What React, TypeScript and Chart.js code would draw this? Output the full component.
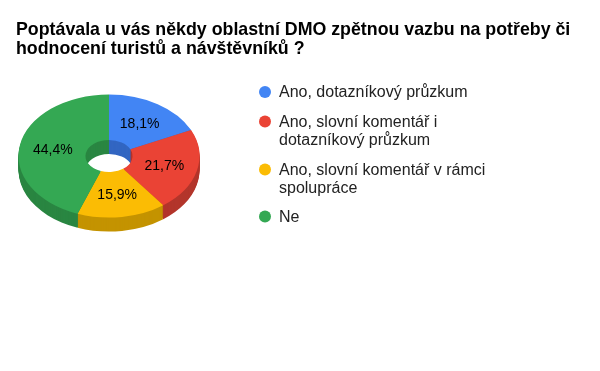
import React, { useEffect, useRef } from "react";
import { Chart, registerables } from "chart.js";

Chart.register(...registerables);

const titleLines = [
  "Poptávala u vás někdy oblastní DMO zpětnou vazbu na potřeby či",
  "hodnocení turistů a návštěvníků ?",
];
const categories = [
  ["Ano, dotazníkový průzkum"],
  ["Ano, slovní komentář i", "dotazníkový průzkum"],
  ["Ano, slovní komentář v rámci", "spolupráce"],
  ["Ne"],
];
const values = [18.1, 21.7, 15.9, 44.4];
const topColors = ["#4285f4", "#ea4335", "#fbbc04", "#34a853"];
const sideColors = ["#3266c2", "#b3352b", "#c49300", "#2a8642"];

const FONT = "Arial, 'Liberation Sans', sans-serif";
const SQUASH = 0.68;
const DEPTH = 14;

const pie3d = {
  id: "pie3d",
  beforeDatasetsDraw(chart: any) {
    const ctx = chart.ctx;
    const meta = chart.getDatasetMeta(0);
    const a0 = meta.data[0];
    const cx = a0.x;
    const cy = a0.y;
    ctx.save();
    ctx.translate(cx, cy);
    ctx.scale(1, SQUASH);
    ctx.translate(-cx, -cy);
    for (let d = DEPTH; d >= 1; d--) {
      const oy = d / SQUASH;
      meta.data.forEach((arc: any, i: number) => {
        const p = arc.getProps(["startAngle", "endAngle", "innerRadius", "outerRadius"], true);
        ctx.beginPath();
        ctx.arc(cx, cy + oy, p.outerRadius, p.startAngle, p.endAngle);
        ctx.arc(cx, cy + oy, p.innerRadius, p.endAngle, p.startAngle, true);
        ctx.closePath();
        ctx.fillStyle = sideColors[i];
        ctx.fill();
      });
    }
  },
  afterDatasetsDraw(chart: any) {
    const ctx = chart.ctx;
    ctx.restore();
    const meta = chart.getDatasetMeta(0);
    const cy = meta.data[0].y;
    ctx.save();
    ctx.font = `14px ${FONT}`;
    ctx.fillStyle = "#000";
    ctx.textAlign = "center";
    ctx.textBaseline = "middle";
    meta.data.forEach((arc: any, i: number) => {
      const pos = arc.tooltipPosition(true);
      const y = cy + (pos.y - cy) * SQUASH;
      ctx.fillText(values[i].toFixed(1).replace(".", ",") + "%", pos.x, y + 1);
    });
    ctx.restore();
  },
  afterDraw(chart: any) {
    const ctx = chart.ctx;
    ctx.save();
    // title
    ctx.font = `bold 17.8px ${FONT}`;
    ctx.fillStyle = "#000";
    ctx.textAlign = "left";
    ctx.textBaseline = "alphabetic";
    titleLines.forEach((t, i) => ctx.fillText(t, 16, 35 + i * 18.5));
    // legend
    ctx.font = `16px ${FONT}`;
    ctx.textBaseline = "middle";
    const starts = [92, 121.5, 169.5, 216.5];
    categories.forEach((lines, i) => {
      ctx.beginPath();
      ctx.arc(265, starts[i], 6, 0, Math.PI * 2);
      ctx.fillStyle = topColors[i];
      ctx.fill();
      ctx.fillStyle = "#222";
      lines.forEach((l, j) => ctx.fillText(l, 279, starts[i] + 1 + j * 18));
    });
    ctx.restore();
  },
};

export default function App() {
  const ref = useRef<HTMLCanvasElement>(null);
  useEffect(() => {
    if (!ref.current) return;
    const chart = new Chart(ref.current, {
      type: "doughnut",
      data: {
        labels: categories.map((c) => c.join(" ")),
        datasets: [
          {
            data: values,
            backgroundColor: topColors,
            borderWidth: 0,
          },
        ],
      },
      options: {
        responsive: false,
        animation: false,
        cutout: "26%",
        layout: { padding: { left: 18.5, right: 400.5, top: 46, bottom: 105 } },
        plugins: {
          legend: { display: false },
          title: { display: false },
          tooltip: { enabled: false },
        },
        events: [],
      },
      plugins: [pie3d],
    });
    return () => chart.destroy();
  }, []);
  return (
    <div style={{ position: "absolute", left: 0, top: 0, width: 600, height: 371, background: "#fff" }}>
      <canvas ref={ref} width={600} height={371} style={{ display: "block", width: 600, height: 371 }} />
    </div>
  );
}
